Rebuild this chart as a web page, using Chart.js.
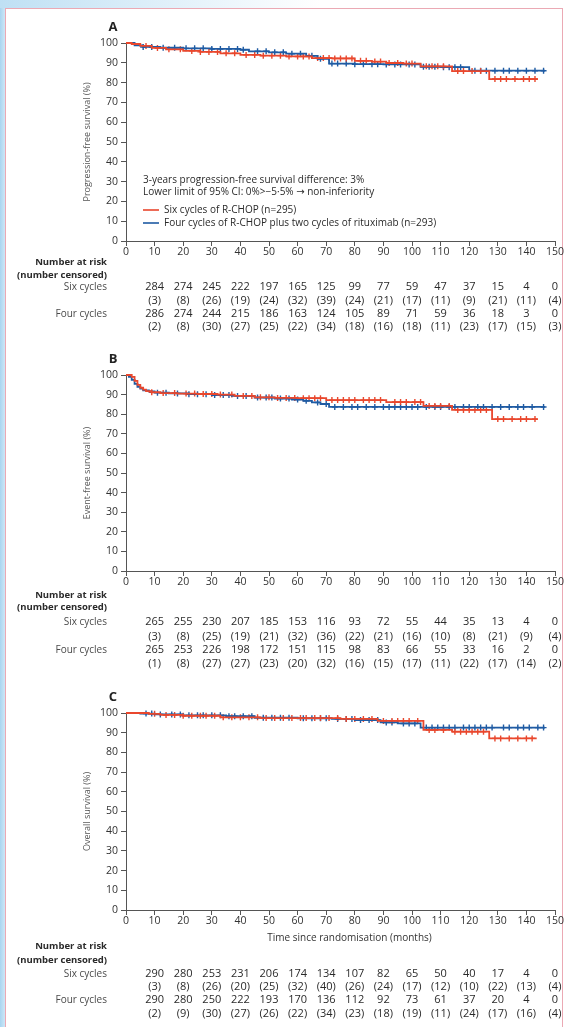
<!DOCTYPE html>
<html>
<head>
<meta charset="utf-8">
<script src="https://cdn.jsdelivr.net/npm/chart.js@4.4.0/dist/chart.umd.min.js"></script>
<style>
  html, body { margin: 0; padding: 0; }
  body { width: 568px; height: 1027px; position: relative; overflow: hidden; background: #fff; }
  #edge { position: absolute; left: 0; top: 0; width: 5px; height: 1027px; background: linear-gradient(to right, #a9d5f0, #cde7f7); }
  #topfade { position: absolute; left: 0; top: 0; width: 320px; height: 8px; background: linear-gradient(to right, #bfe0f4, #ffffff); }
  #frame { position: absolute; left: 5px; top: 8px; width: 556px; height: 1040px; border: 1px solid #eba9b4; border-bottom: none; }
  canvas { position: absolute; left: 0; }
</style>
</head>
<body>
<div id="edge"></div>
<div id="topfade"></div>
<div id="frame"></div>
<canvas id="pfsChart" width="568" height="340" style="top:0px"></canvas>
<canvas id="efsChart" width="568" height="340" style="top:340px"></canvas>
<canvas id="osChart" width="568" height="347" style="top:680px"></canvas>

<script>
// --- Data ---
const riskTimes = [10, 20, 30, 40, 50, 60, 70, 80, 90, 100, 110, 120, 130, 140, 150];
const groupNames = ['Six cycles', 'Four cycles'];
const legendLabels = ['Six cycles of R-CHOP (n=295)', 'Four cycles of R-CHOP plus two cycles of rituximab (n=293)'];
const pfsNotes = ['3-years progression-free survival difference: 3%', 'Lower limit of 95% CI: 0%>\u22125\u00b75% \u2192 non-inferiority'];

// A: progression-free survival
const pfsSixT = [0, 2, 5, 9, 14, 20, 26, 33, 40, 47, 56, 65, 72, 80, 86, 91, 97, 103, 114, 127, 144];
const pfsSixS = [100, 99.5, 98.5, 97.5, 96.8, 96, 95.5, 94.8, 94, 93.6, 93.2, 92.4, 92.2, 91, 90.6, 89.9, 89.6, 88.2, 85.8, 81.8, 81.8];
const pfsSixCens = [7, 11, 15, 19, 23, 26, 29, 32, 35, 38, 42, 45, 48, 51, 54, 57, 60, 62, 64, 67, 69, 71, 73, 75, 77, 79, 82, 84, 87, 89, 92, 95, 98, 100, 105, 107, 109, 111, 116, 118, 121, 124, 129, 131, 133, 136, 139, 141, 143];
const pfsFourT = [0, 3, 6, 12, 20, 30, 40, 43, 50, 56, 63, 67, 71, 80, 90, 103, 110, 120, 146.5];
const pfsFourS = [100, 98.8, 98, 97.6, 97.3, 97, 96.6, 95.8, 95.3, 94.6, 93.5, 92, 89.6, 89.3, 89.2, 88, 87.8, 86, 86];
const pfsFourCens = [6, 9, 13, 17, 21, 24, 27, 30, 33, 36, 39, 41, 46, 49, 52, 55, 58, 61, 65, 68, 72, 74, 77, 80, 83, 86, 88, 91, 94, 96, 99, 101, 104, 106, 108, 111, 113, 115, 117, 122, 124, 126, 129, 132, 134, 137, 140, 143, 146];
const pfsSixRisk = [284, 274, 245, 222, 197, 165, 125, 99, 77, 59, 47, 37, 15, 4, 0];
const pfsSixCensN = [3, 8, 26, 19, 24, 32, 39, 24, 21, 17, 11, 9, 21, 11, 4];
const pfsFourRisk = [286, 274, 244, 215, 186, 163, 124, 105, 89, 71, 59, 36, 18, 3, 0];
const pfsFourCensN = [2, 8, 30, 27, 25, 22, 34, 18, 16, 18, 11, 23, 17, 15, 3];

// B: event-free survival
const efsSixT = [0, 2, 3, 4, 5, 6, 7, 9, 12, 18, 25, 32, 38, 45, 52, 60, 70, 91, 104, 114, 128, 144];
const efsSixS = [100, 99, 97, 95, 93.5, 92.5, 91.8, 91.2, 90.8, 90.5, 90.3, 90, 89.3, 88.6, 88.3, 88.2, 87.2, 86.2, 84.2, 82.2, 77.5, 77.5];
const efsSixCens = [9, 13, 17, 21, 24, 27, 30, 33, 37, 41, 44, 47, 50, 53, 56, 59, 62, 64, 66, 68, 72, 74, 76, 78, 80, 83, 85, 87, 89, 94, 96, 98, 101, 103, 106, 108, 110, 113, 116, 118, 120, 122, 124, 126, 130, 132, 135, 138, 140, 143];
const efsFourT = [0, 1, 2, 3, 4, 5, 6, 8, 10, 15, 22, 30, 37, 45, 52, 58, 62, 65, 68, 71, 146.5];
const efsFourS = [100, 99, 97.5, 95.5, 94, 93, 92.2, 91.6, 91, 90.6, 90.2, 89.8, 89.3, 88.5, 88, 87.5, 86.8, 86, 85.2, 83.7, 83.7];
const efsFourCens = [11, 14, 18, 22, 25, 28, 31, 34, 36, 39, 42, 46, 49, 51, 54, 57, 60, 63, 67, 70, 73, 76, 79, 81, 84, 87, 90, 92, 94, 96, 98, 100, 102, 105, 108, 110, 113, 115, 118, 120, 123, 125, 128, 131, 134, 137, 139, 142, 146];
const efsSixRisk = [265, 255, 230, 207, 185, 153, 116, 93, 72, 55, 44, 35, 13, 4, 0];
const efsSixCensN = [3, 8, 25, 19, 21, 32, 36, 22, 21, 16, 10, 8, 21, 9, 4];
const efsFourRisk = [265, 253, 226, 198, 172, 151, 115, 98, 83, 66, 55, 33, 16, 2, 0];
const efsFourCensN = [1, 8, 27, 27, 23, 20, 32, 16, 15, 17, 11, 22, 17, 14, 2];

// C: overall survival
const osSixT = [0, 8, 12, 20, 33, 47, 75, 88, 104, 114, 127, 143.6];
const osSixS = [100, 99.6, 99, 98.6, 97.8, 97.4, 97.0, 96.0, 91.4, 90.5, 87.1, 87.1];
const osSixCens = [10, 14, 17, 20, 23, 26, 28, 31, 34, 37, 40, 43, 46, 49, 52, 55, 58, 61, 63, 66, 68, 71, 74, 77, 80, 83, 86, 90, 93, 95, 97, 99, 102, 106, 108, 111, 115, 117, 119, 121, 123, 125, 129, 131, 134, 137, 140, 142];
const osFourT = [0, 5, 10, 20, 35, 45, 60, 72, 80, 89, 95, 103, 146.5];
const osFourS = [100, 99.7, 99.3, 98.8, 98.4, 97.6, 97.3, 97.0, 96.4, 95.2, 94.7, 92.6, 92.6];
const osFourCens = [7, 9, 12, 16, 19, 22, 25, 27, 30, 33, 36, 38, 41, 44, 48, 51, 54, 57, 62, 65, 68, 70, 74, 77, 79, 82, 85, 88, 91, 93, 97, 99, 101, 105, 107, 109, 111, 113, 115, 118, 120, 122, 124, 126, 128, 132, 134, 137, 139, 141, 144, 146];
const osSixRisk = [290, 280, 253, 231, 206, 174, 134, 107, 82, 65, 50, 40, 17, 4, 0];
const osSixCensN = [3, 8, 26, 20, 25, 32, 40, 26, 24, 17, 12, 10, 22, 13, 4];
const osFourRisk = [290, 280, 250, 222, 193, 170, 136, 112, 92, 73, 61, 37, 20, 4, 0];
const osFourCensN = [2, 9, 30, 27, 26, 22, 34, 23, 18, 19, 11, 24, 17, 16, 4];

// --- Helpers ---
const RED = '#e9472d';
const BLUE = '#1f5ba3';
const FONT = '"Open Sans", "DejaVu Sans", sans-serif';

function kmPoints(T, S) {
  return T.map((t, i) => ({ x: t, y: S[i] }));
}
function censorPoints(T, S, C) {
  return C.map(c => {
    let i = 0;
    while (i + 1 < T.length && T[i + 1] <= c) i++;
    return { x: c, y: S[i] };
  });
}

function textPlugin(cfg) {
  return {
    id: 'panelText',
    afterDraw(chart) {
      const ctx = chart.ctx;
      const area = chart.chartArea;
      const xs = chart.scales.x;
      ctx.save();
      // panel letter
      ctx.fillStyle = '#222';
      ctx.font = 'bold 13px ' + FONT;
      ctx.textAlign = 'center';
      ctx.textBaseline = 'middle';
      ctx.fillText(cfg.letter, 113, area.top - 16);
      // y title
      ctx.save();
      ctx.translate(87, (area.top + area.bottom) / 2);
      ctx.rotate(-Math.PI / 2);
      ctx.fillStyle = '#555';
      ctx.font = '9px ' + FONT;
      ctx.fillText(cfg.yTitle, 0, 0);
      ctx.restore();
      // x title
      if (cfg.xTitle) {
        ctx.fillStyle = '#333';
        ctx.font = '10px ' + FONT;
        ctx.textAlign = 'center';
        ctx.fillText(cfg.xTitle, (area.left + area.right) / 2 + 9, area.bottom + cfg.xTitleOff);
      }
      // notes and legend (panel A)
      if (cfg.notes) {
        ctx.textAlign = 'left';
        ctx.fillStyle = '#2a2a2a';
        ctx.font = '10px ' + FONT;
        ctx.fillText(cfg.notes[0], 143, 180);
        ctx.fillText(cfg.notes[1], 143, 192);
        [RED, BLUE].forEach((col, k) => {
          const y = 210 + k * 13;
          ctx.strokeStyle = col;
          ctx.lineWidth = 1.6;
          ctx.beginPath();
          ctx.moveTo(143, y);
          ctx.lineTo(159, y);
          ctx.stroke();
          ctx.fillStyle = '#2a2a2a';
          ctx.fillText(legendLabels[k], 164, y);
        });
      }
      // risk table
      const r = cfg.rows;
      const b = area.bottom;
      ctx.textAlign = 'right';
      ctx.fillStyle = '#2a2a2a';
      ctx.font = 'bold 9.5px ' + FONT;
      ctx.fillText('Number at risk', 107, b + r[0]);
      ctx.fillText('(number censored)', 107, b + r[1]);
      ctx.font = '10px ' + FONT;
      ctx.fillStyle = '#4a4a4a';
      ctx.fillText(groupNames[0], 107, b + r[2]);
      ctx.fillText(groupNames[1], 107, b + r[4]);
      ctx.textAlign = 'center';
      ctx.fillStyle = '#2a2a2a';
      ctx.font = '11px ' + FONT;
      riskTimes.forEach((t, i) => {
        const x = xs.getPixelForValue(t);
        ctx.fillText(String(cfg.sixRisk[i]), x, b + r[2]);
        ctx.fillText('(' + cfg.sixCens[i] + ')', x, b + r[3]);
        ctx.fillText(String(cfg.fourRisk[i]), x, b + r[4]);
        ctx.fillText('(' + cfg.fourCens[i] + ')', x, b + r[5]);
      });
      ctx.restore();
    }
  };
}

function makePanel(id, padTop, xHeight, six, four, cfg) {
  return new Chart(document.getElementById(id), {
    type: 'line',
    data: {
      datasets: [
        { data: kmPoints(six.T, six.S), borderColor: RED, borderWidth: 1.8, stepped: true, pointRadius: 0, clip: 4 },
        { data: kmPoints(four.T, four.S), borderColor: BLUE, borderWidth: 1.8, stepped: true, pointRadius: 0, clip: 4 },
        { data: censorPoints(six.T, six.S, six.C), showLine: false, pointStyle: 'cross', pointRadius: 3, borderColor: RED, borderWidth: 1.4, clip: 4 },
        { data: censorPoints(four.T, four.S, four.C), showLine: false, pointStyle: 'cross', pointRadius: 3, borderColor: BLUE, borderWidth: 1.4, clip: 4 }
      ]
    },
    options: {
      responsive: false,
      animation: false,
      events: [],
      layout: { padding: { top: padTop, right: 13, left: 0, bottom: 0 } },
      plugins: { legend: { display: false }, tooltip: { enabled: false } },
      scales: {
        x: {
          type: 'linear', min: 0, max: 150,
          ticks: { stepSize: 10, color: '#333', font: { family: FONT, size: 10.5 }, padding: 0, maxRotation: 0 },
          grid: { drawOnChartArea: false, tickLength: 5, color: '#555' },
          border: { color: '#555', width: 1 },
          afterFit: s => { s.height = xHeight; }
        },
        y: {
          min: 0, max: 100,
          ticks: { stepSize: 10, color: '#333', font: { family: FONT, size: 10.5 }, padding: 3 },
          grid: { drawOnChartArea: false, tickLength: 5, color: '#555' },
          border: { color: '#555', width: 1 },
          afterFit: s => { s.width = 126; }
        }
      }
    },
    plugins: [textPlugin(cfg)]
  });
}

// --- Charts ---
makePanel('pfsChart', 43, 99,
  { T: pfsSixT, S: pfsSixS, C: pfsSixCens },
  { T: pfsFourT, S: pfsFourS, C: pfsFourCens },
  { letter: 'A', yTitle: 'Progression-free survival (%)', notes: pfsNotes,
    rows: [21, 34, 46, 60, 73, 86],
    sixRisk: pfsSixRisk, sixCens: pfsSixCensN, fourRisk: pfsFourRisk, fourCens: pfsFourCensN });

makePanel('efsChart', 35, 109,
  { T: efsSixT, S: efsSixS, C: efsSixCens },
  { T: efsFourT, S: efsFourS, C: efsFourCens },
  { letter: 'B', yTitle: 'Event-free survival (%)',
    rows: [24, 36, 51, 66, 79, 93],
    sixRisk: efsSixRisk, sixCens: efsSixCensN, fourRisk: efsFourRisk, fourCens: efsFourCensN });

makePanel('osChart', 33, 117,
  { T: osSixT, S: osSixS, C: osSixCens },
  { T: osFourT, S: osFourS, C: osFourCens },
  { letter: 'C', yTitle: 'Overall survival (%)', xTitle: 'Time since randomisation (months)', xTitleOff: 28,
    rows: [36, 50, 64, 77, 90, 104],
    sixRisk: osSixRisk, sixCens: osSixCensN, fourRisk: osFourRisk, fourCens: osFourCensN });
</script>
</body>
</html>
